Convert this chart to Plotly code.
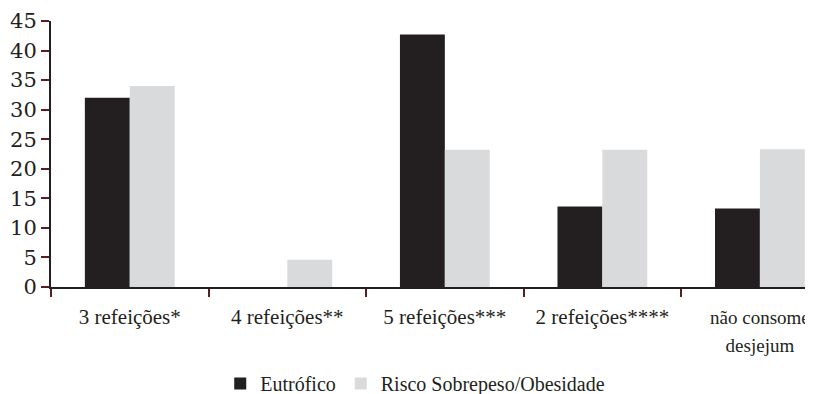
import plotly.graph_objects as go

categories = ["3 refeições*", "4 refeições**", "5 refeições***", "2 refeições****",
              "<span style='font-size:19px'>não consome<br>desjejum</span>"]
eutrofico = [32.0, 0, 42.7, 13.6, 13.3]
risco = [34.0, 4.6, 23.2, 23.2, 23.3]
y_ticks = [0, 5, 10, 15, 20, 25, 30, 35, 40, 45]

TXT = "#231f20"
SERIF = "Liberation Serif"

fig = go.Figure()
fig.add_trace(go.Bar(x=categories, y=eutrofico, name="Eutrófico",
                     marker=dict(color="#231f20", line=dict(width=0))))
fig.add_trace(go.Bar(x=categories, y=risco, name="Risco Sobrepeso/Obesidade",
                     marker=dict(color="#d9dadc", line=dict(width=0))))

fig.update_layout(
    width=805, height=386,
    margin=dict(l=43, r=0, t=13, b=107, autoexpand=False),
    paper_bgcolor="white", plot_bgcolor="white",
    barmode="group", bargap=0.43, bargroupgap=0,
    font=dict(family=SERIF, size=21, color=TXT),
    showlegend=True,
    legend=dict(orientation="h", x=0.478, xanchor="center", y=-0.363, yanchor="middle",
                font=dict(family=SERIF, size=20, color=TXT), itemwidth=30,
                tracegroupgap=0),
    xaxis=dict(range=[-0.5, 4.337], showline=True, linecolor=TXT, linewidth=2,
               ticks="outside", tickson="boundaries", ticklen=8, tickcolor="#5a1e22",
               tickwidth=2, showgrid=False, zeroline=False, automargin=False,
               ticklabelstandoff=10,
               tickfont=dict(family=SERIF, size=21, color=TXT)),
    yaxis=dict(range=[0, 45], tickvals=y_ticks, showline=True, linecolor=TXT, linewidth=2,
               ticks="outside", ticklen=8, tickcolor="#5a1e22", tickwidth=2,
               showgrid=False, zeroline=False, automargin=False,
               tickfont=dict(family="DejaVu Serif", size=21, color=TXT)),
)

fig.write_html("out.html")
